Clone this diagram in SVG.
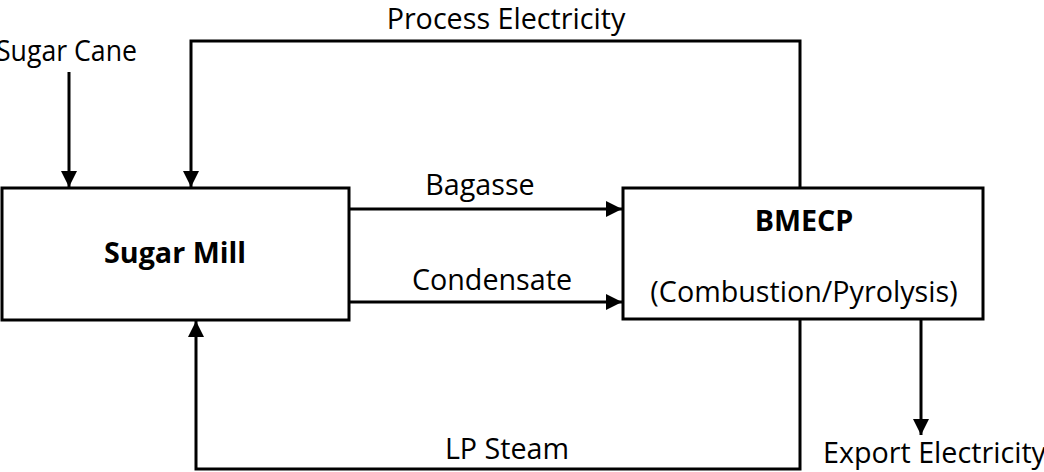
<svg xmlns="http://www.w3.org/2000/svg" width="1044" height="472" viewBox="0 0 1044 472">
<style>
.box{fill:#fff;stroke:#000;stroke-width:3}
.ln{fill:none;stroke:#000;stroke-width:3}
.t{font-family:"Open Sans","Liberation Sans",sans-serif;font-size:28.7px;fill:#000}
.b{font-weight:bold}
</style>
<defs>
<marker id="ah2" viewBox="0 0 16 16" refX="16" refY="8" markerWidth="16" markerHeight="16" orient="auto" markerUnits="userSpaceOnUse">
<path d="M0,0 L16,8 L0,16 z" fill="#000"/>
</marker>
</defs>
<g id="connectors">
<path class="ln" d="M69,72 V187" marker-end="url(#ah2)"/>
<path class="ln" d="M800,187 V41 H191 V187" marker-end="url(#ah2)"/>
<path class="ln" d="M349,209 H622" marker-end="url(#ah2)"/>
<path class="ln" d="M349,302 H622" marker-end="url(#ah2)"/>
<path class="ln" d="M800,320 V469 H196 V321" marker-end="url(#ah2)"/>
<path class="ln" d="M921,320 V435" marker-end="url(#ah2)"/>
<text class="t" x="-4" y="61" textLength="141" lengthAdjust="spacingAndGlyphs">Sugar Cane</text>
<text class="t" x="506" y="29" text-anchor="middle">Process Electricity</text>
<text class="t" x="480" y="195" text-anchor="middle">Bagasse</text>
<text class="t" x="492" y="290" text-anchor="middle">Condensate</text>
<text class="t" x="507" y="459" text-anchor="middle">LP Steam</text>
<text class="t" x="823" y="463">Export Electricity</text>
</g>
<g id="sugar-mill">
<rect class="box" x="2" y="188" width="347" height="132"/>
<text class="t b" x="175" y="263" text-anchor="middle">Sugar Mill</text>
</g>
<g id="bmecp">
<rect class="box" x="623" y="188" width="360" height="131"/>
<text class="t b" x="804" y="231" text-anchor="middle">BMECP</text>
<text class="t" x="804" y="302" text-anchor="middle">(Combustion/Pyrolysis)</text>
</g>
</svg>
